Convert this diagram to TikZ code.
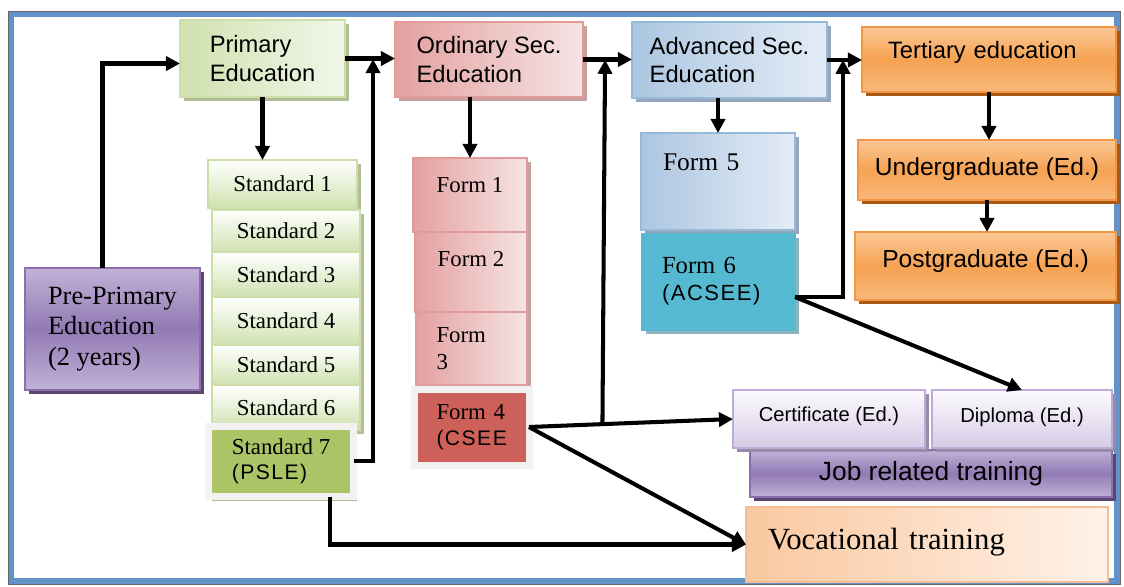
\documentclass[tikz,border=0pt]{standalone}
\usepackage{fontspec}
\setmainfont{Liberation Serif}
\setsansfont{Liberation Sans}
\newfontfamily\spsf[LetterSpace=7]{Liberation Sans}
\usetikzlibrary{calc,shadows,arrows.meta}

\definecolor{frameblue}{RGB}{99,146,200}
\definecolor{framegray}{RGB}{242,242,242}
\definecolor{grlight}{RGB}{242,246,234}
\definecolor{grdark}{RGB}{208,225,175}
\definecolor{grline}{RGB}{205,222,168}
\definecolor{grshadow}{RGB}{180,190,150}
\definecolor{grolive}{RGB}{170,196,102}
\definecolor{pklight}{RGB}{246,228,228}
\definecolor{pkdark}{RGB}{228,160,160}
\definecolor{pkline}{RGB}{225,155,155}
\definecolor{pkshadow}{RGB}{200,160,160}
\definecolor{pkred}{RGB}{205,97,90}
\definecolor{bllight}{RGB}{228,236,246}
\definecolor{bldark}{RGB}{172,198,225}
\definecolor{blline}{RGB}{150,185,215}
\definecolor{blshadow}{RGB}{150,165,185}
\definecolor{f6teal}{RGB}{85,185,210}
\definecolor{tlshadow}{RGB}{140,180,190}
\definecolor{ortop}{RGB}{250,200,150}
\definecolor{ormid}{RGB}{246,162,82}
\definecolor{orline}{RGB}{245,150,70}
\definecolor{orshadow}{RGB}{170,90,20}
\definecolor{pulight}{RGB}{194,178,215}
\definecolor{pudark}{RGB}{146,122,180}
\definecolor{puline}{RGB}{140,110,175}
\definecolor{pushadow}{RGB}{90,70,110}
\definecolor{lvlight}{RGB}{252,250,254}
\definecolor{lvdark}{RGB}{214,204,230}
\definecolor{lvline}{RGB}{190,170,215}
\definecolor{lvshadow}{RGB}{150,140,165}
\definecolor{pclight}{RGB}{255,242,232}
\definecolor{pcdark}{RGB}{250,200,160}
\definecolor{pcline}{RGB}{245,190,150}

\tikzset{
	box/.style={line width=1.2pt, inner sep=0pt, outer sep=0pt},
	sh/.style={drop shadow={shadow xshift=0.07cm, shadow yshift=-0.08cm, fill=#1, opacity=1}},
	hdr/.style={font=\sffamily\fontsize{13.5}{16}\selectfont, align=left},
	srf/.style={font=\fontsize{13}{15.5}\selectfont, align=left},
	greenbox/.style={box, draw=grline, left color=grdark, right color=grlight, sh=grshadow},
	stdbox/.style={box, draw=grline, top color=white, bottom color=grdark, sh=grshadow},
	pinkbox/.style={box, draw=pkline, left color=pkdark, right color=pklight, sh=pkshadow},
	bluebox/.style={box, draw=blline, left color=bldark, right color=bllight, sh=blshadow},
	orbox/.style={box, draw=orline, top color=ortop, bottom color=ortop!60!ormid, middle color=ormid, sh=orshadow},
	purplebox/.style={box, draw=puline, top color=pulight, bottom color=pulight, middle color=pudark, sh=pushadow},
	lilacbox/.style={box, draw=lvline, top color=lvlight, bottom color=lvdark, sh=lvshadow},
	framed/.style={box, draw=framegray, line width=0.14cm, fill=#1},
	arr/.style={line width=2.3pt, -{Triangle[length=8pt, width=8pt]}}
}
\def\boxat[#1](#2)(#3,#4:#5,#6)#7{\node[#1, minimum width={(#5-#3)*0.02cm}, minimum height={(#6-#4)*0.02cm}] (#2) at ({(#3+#5)/2},{(#4+#6)/2}) {#7};}

\begin{document}
\begin{tikzpicture}[x=0.02cm, y=-0.02cm]
			%%%%% START %%%%%
			\useasboundingbox (0,0) rectangle (1124,586);
			\draw[line width=0.12cm, color=frameblue] (11,14) rectangle (1117,581);
			\draw[line width=0.5pt, color=black!60] (8,11) rectangle (1120,584);
			
			\boxat[greenbox, hdr](prim)(180,20:345,97){Primary\\Education}
			\boxat[pinkbox, hdr](ord)(395,22:583,97){Ordinary Sec.\\Education}
			\boxat[bluebox, hdr](adv)(632,22:827,98){Advanced Sec.\\Education}
			\boxat[orbox, hdr, text width=4.04cm](ter)(862,27:1116,92){\raisebox{11pt}{Tertiary education}}
			\boxat[purplebox, srf, font=\fontsize{15}{17.5}\selectfont](pre)(25,268:200,390){Pre-Primary\\Education\\(2 years)}
			
			\boxat[stdbox, srf](std1)(208,160:357,208){Standard 1}
			\foreach \n/\ya/\yb in {2/210/252, 3/252/297, 4/297/345, 5/345/385, 6/385/430}
				\boxat[stdbox, srf](std\n)(212,\ya:360,\yb){Standard \n};
			\boxat[framed=grolive, sh=grshadow, srf, font=\fontsize{13}{14.5}\selectfont](std7)(208.5,426:353.5,496.5){Standard 7\\{\spsf\fontsize{12}{14.5}\selectfont (PSLE)}}
			
			\boxat[pinkbox, srf](f1)(413,158:527,232){\raisebox{11pt}{Form 1}}
			\boxat[pinkbox, srf](f2)(415,232:527,312){\raisebox{15pt}{Form 2}}
			\boxat[pinkbox, srf, text width=1.4cm](f3)(416,312:527,385){Form\\3}
			\boxat[framed=pkred, sh=pkshadow, srf, font=\fontsize{13}{14.5}\selectfont, text width=1.4cm](f4)(414,389:529,465){Form 4\\{\spsf\fontsize{12}{14.5}\selectfont (CSEE}}
			
			\boxat[bluebox, srf, font=\fontsize{14.5}{17}\selectfont, text width=2.2cm](f5)(641,133:795,230){\raisebox{22pt}{Form 5}}
			\boxat[box, draw=f6teal, fill=f6teal, sh=tlshadow, srf, font=\fontsize{14}{15.5}\selectfont, text width=2.26cm](f6)(642,234:795,330){\raisebox{12pt}{\begin{tabular}{@{}l@{}}Form 6\\{\spsf\fontsize{12.5}{15}\selectfont (ACSEE)}\end{tabular}}}
			
			\boxat[orbox, hdr, font=\sffamily\fontsize{14}{16}\selectfont](ug)(858,140:1116,200){\raisebox{4pt}{Undergraduate (Ed.)}}
			\boxat[orbox, hdr, font=\sffamily\fontsize{14}{16}\selectfont](pg)(855,232:1116,300){\raisebox{8pt}{Postgraduate (Ed.)}}
			
			\boxat[purplebox, hdr, font=\sffamily\fontsize{15}{17}\selectfont](job)(750,450:1112,497){Job related training}
			\boxat[lilacbox, hdr, font=\sffamily\fontsize{11.5}{14}\selectfont](cert)(733,390:925,448){\raisebox{6pt}{Certificate (Ed.)}}
			\boxat[lilacbox, hdr, font=\sffamily\fontsize{11.5}{14}\selectfont](dip)(932,390:1112,448){\raisebox{4pt}{Diploma (Ed.)}}
			\boxat[box, draw=pcline, left color=pcdark, right color=pclight, srf, font=\fontsize{17.5}{20}\selectfont, text width=6.36cm](voc)(746,507:1108,582){\raisebox{6pt}{Vocational training}}
			
			\coordinate (j1) at ($(prim.east)!0.56!(ord.west)$);
			\coordinate (j2) at ($(ord.east)!0.45!(adv.west)$);
			\coordinate (j3) at ($(f4.east)!0.36!(cert.west)$);
			\coordinate (j4) at ($(adv.east)!0.457!(ter.west)$);
			
			\draw[arr] ([xshift=-0.2cm]pre.north) |- ([yshift=-0.1cm]prim.west);
			\draw[arr] (prim.south) -- (prim.south |- std1.north);
			\draw[arr] (prim.east) -- (prim.east -| ord.west);
			\draw[arr] (std7.east) -| (j1);
			\draw[arr] (f1.north |- ord.south) -- (f1.north);
			\draw[arr] (ord.east) -- (ord.east -| adv.west);
			\draw[arr] (f4.east) -- (cert.west);
			\draw[arr] (j3) -- (j2);
			\draw[arr] (f4.east) -- (voc.west);
			\draw[arr] ([xshift=0.98cm]std7.south) |- (voc.west);
			\draw[arr] (f5.north |- adv.south) -- (f5.north);
			\draw[arr] (adv.east) -- (adv.east -| ter.west);
			\draw[arr] ([yshift=-0.3cm]f6.east) -| (j4);
			\draw[arr] ([yshift=-0.3cm]f6.east) -- (dip.north);
			\draw[arr] (ter.south) -- (ter.south |- ug.north);
			\draw[arr] (ug.south) -- (ug.south |- pg.north);
			%%%%% END %%%%%
\end{tikzpicture}
\end{document}
